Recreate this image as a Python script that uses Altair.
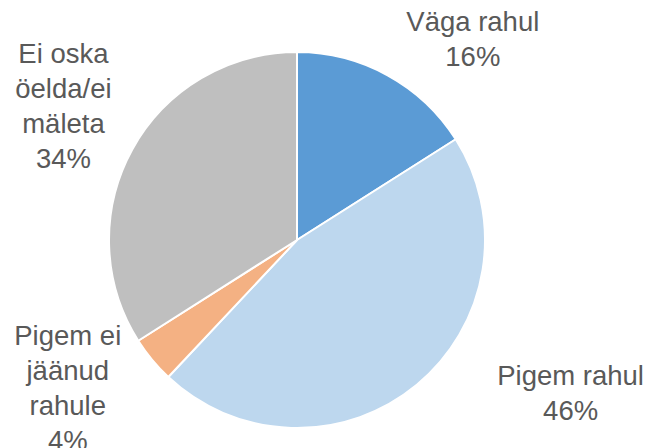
import altair as alt
import pandas as pd

categories = ["Väga rahul", "Pigem rahul", "Pigem ei jäänud rahule", "Ei oska öelda/ei mäleta"]
label_lines = [["Väga rahul", "16%"], ["Pigem rahul", "46%"], ["Pigem ei", "jäänud", "rahule", "4%"], ["Ei oska", "öelda/ei", "mäleta", "34%"]]
values = [16, 46, 4, 34]
colors = ["#5B9BD5", "#BDD7EE", "#F4B183", "#BFBFBF"]

df = pd.DataFrame({"cat": categories, "value": values, "idx": list(range(len(values))),
                   "label": label_lines})

base = alt.Chart(df)

pie = base.mark_arc(outerRadius=188, stroke="white", strokeWidth=2).encode(
    theta=alt.Theta("value:Q", stack=True),
    order=alt.Order("idx:Q"),
    color=alt.Color("cat:N", scale=alt.Scale(domain=categories, range=colors), legend=None),
)

offsets = [(65, -15), (127, -40), (-52, -50), (-32, -74)]

layers = [pie]
for i, (dx, dy) in enumerate(offsets):
    t = base.transform_window(
        cum="sum(value)", sort=[alt.SortField("idx")], frame=[None, 0]
    ).transform_calculate(
        mid="datum.cum - datum.value / 2"
    ).transform_filter(
        alt.datum.idx == i
    ).mark_text(
        radius=230, dx=dx, dy=dy, fontSize=27.5, font="Liberation Sans",
        color="#595959", align="center", baseline="middle", lineHeight=35
    ).encode(
        theta=alt.Theta("mid:Q", scale=alt.Scale(domain=[0, 100])),
        text="label",
    )
    layers.append(t)

chart = alt.layer(*layers).properties(
    width=578, height=400,
    autosize=alt.AutoSizeParams(type="none"),
    padding={"top": 32, "left": 0, "right": 60, "bottom": 8},
).configure_view(stroke=None)

chart.save("out.html", embed_options={"renderer": "svg", "actions": False})
